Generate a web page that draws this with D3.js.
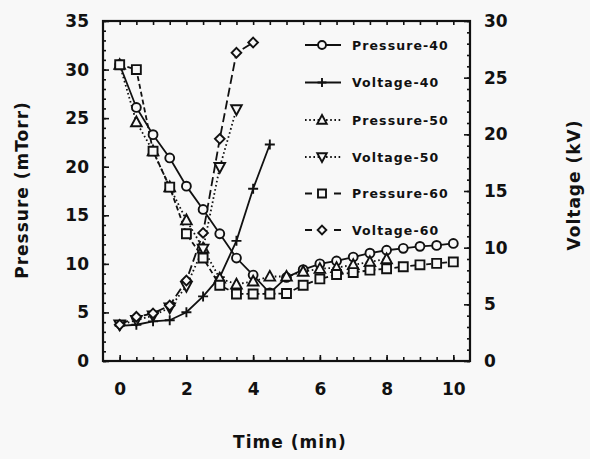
<!DOCTYPE html>
<html><head><meta charset="utf-8">
<script src="https://cdn.jsdelivr.net/npm/d3@7"></script>
<style>
html,body{margin:0;padding:0;background:#f8f8f8;}
svg{display:block;}
text{font-family:"DejaVu Sans",sans-serif;font-weight:bold;fill:#111;}
</style></head>
<body><svg id="c" width="590" height="459"></svg>
<script>
// ---- data ----
const timeP40 = [0,0.5,1,1.5,2,2.5,3,3.5,4,4.5,5,5.5,6,6.5,7,7.5,8,8.5,9,9.5,10];
const pressure40 = [30.5,26.1,23.3,20.9,18.0,15.6,13.1,10.6,8.85,7.0,8.6,9.4,10.0,10.3,10.7,11.1,11.4,11.6,11.8,11.9,12.1];
const timeV40 = [0,0.5,1,1.5,2,2.5,3,3.5,4,4.5];
const voltage40 = [3.1,3.2,3.5,3.6,4.3,5.7,7.4,10.6,15.2,19.1];
const timeP50 = [0,0.5,1,1.5,2,2.5,3,3.5,4,4.5,5,5.5,6,6.5,7,7.5,8];
const pressure50 = [30.5,24.6,21.6,17.9,14.5,11.6,8.5,7.9,8.2,8.7,8.7,9.2,9.5,9.6,9.9,10.2,10.5];
const timeV50 = [0,0.5,1,1.5,2,2.5,3,3.5];
const voltage50 = [3.2,3.6,4.0,4.7,6.6,9.9,17.1,22.2];
const timeP60 = [0,0.5,1,1.5,2,2.5,3,3.5,4,4.5,5,5.5,6,6.5,7,7.5,8,8.5,9,9.5,10];
const pressure60 = [30.5,30.0,21.6,17.9,13.1,10.6,7.8,6.9,6.9,6.9,6.95,7.8,8.45,8.9,9.1,9.35,9.5,9.7,9.9,10.05,10.2];
const timeV60 = [0,0.5,1,1.5,2,2.5,3,3.5,4];
const voltage60 = [3.2,3.9,4.2,4.9,7.1,11.3,19.6,27.2,28.1];

const pressureTicks = [0,5,10,15,20,25,30,35];
const voltageTicks = [0,5,10,15,20,25,30];
const timeTicks = [0,2,4,6,8,10];
const seriesNames = ["Pressure-40","Voltage-40","Pressure-50","Voltage-50","Pressure-60","Voltage-60"];

// ---- layout ----
const svg = d3.select("#c");
const L = 103, R = 470, T = 21, B = 361;
const x = d3.scaleLinear().domain([-0.5,10.5]).range([L,R]);
const yP = d3.scaleLinear().domain([0,35]).range([B,T]);
const yV = d3.scaleLinear().domain([0,30]).range([B,T]);

svg.append("rect").attr("width",590).attr("height",459).attr("fill","#f8f8f8");

// custom symbols
const plusSym = {draw(ctx,size){const r=Math.sqrt(size)/2;ctx.moveTo(-r,0);ctx.lineTo(r,0);ctx.moveTo(0,-r);ctx.lineTo(0,r);}};
const diamondSym = {draw(ctx,size){const r=Math.sqrt(size)/1.6;ctx.moveTo(0,-r);ctx.lineTo(r,0);ctx.lineTo(0,r);ctx.lineTo(-r,0);ctx.closePath();}};
const triUp = {draw(ctx,size){const r=Math.sqrt(size)/1.7;ctx.moveTo(0,-r);ctx.lineTo(r*0.95,r*0.75);ctx.lineTo(-r*0.95,r*0.75);ctx.closePath();}};
const triDown = {draw(ctx,size){const r=Math.sqrt(size)/1.7;ctx.moveTo(0,r);ctx.lineTo(r*0.95,-r*0.75);ctx.lineTo(-r*0.95,-r*0.75);ctx.closePath();}};

const series = [
 {name:seriesNames[0], t:timeP40, v:pressure40, y:yP, sym:d3.symbolCircle, size:62, dash:null},
 {name:seriesNames[1], t:timeV40, v:voltage40, y:yV, sym:plusSym, size:100, dash:null},
 {name:seriesNames[2], t:timeP50, v:pressure50, y:yP, sym:triUp, size:90, dash:"1.6,2.6"},
 {name:seriesNames[3], t:timeV50, v:voltage50, y:yV, sym:triDown, size:90, dash:"1.6,2.6"},
 {name:seriesNames[4], t:timeP60, v:pressure60, y:yP, sym:d3.symbolSquare, size:80, dash:"5,3"},
 {name:seriesNames[5], t:timeV60, v:voltage60, y:yV, sym:diamondSym, size:60, dash:"9,4"}
];

// ---- axes ----
function styleAxis(g){
  g.select(".domain").remove();
  g.selectAll(".tick line").attr("stroke","#111").attr("stroke-width",1.6);
  g.selectAll(".tick text").style("font-size","17px").attr("fill","#111");
}
// left
svg.append("g").attr("transform",`translate(${L},0)`)
  .call(d3.axisLeft(yP).tickValues(d3.range(0,36,1)).tickSize(-3).tickFormat(""))
  .call(styleAxis);
svg.append("g").attr("transform",`translate(${L},0)`)
  .call(d3.axisLeft(yP).tickValues(pressureTicks).tickSize(-6).tickPadding(14).tickFormat(d3.format("d")))
  .call(styleAxis);
// right
svg.append("g").attr("transform",`translate(${R},0)`)
  .call(d3.axisRight(yV).tickValues(d3.range(0,31,1)).tickSize(-3).tickFormat(""))
  .call(styleAxis);
svg.append("g").attr("transform",`translate(${R},0)`)
  .call(d3.axisRight(yV).tickValues(voltageTicks).tickSize(-6).tickPadding(14).tickFormat(d3.format("d")))
  .call(styleAxis);
// bottom
svg.append("g").attr("transform",`translate(0,${B})`)
  .call(d3.axisBottom(x).tickValues(d3.range(0,10.01,0.5)).tickSize(-4).tickFormat(""))
  .call(styleAxis);
svg.append("g").attr("transform",`translate(0,${B})`)
  .call(d3.axisBottom(x).tickValues(timeTicks).tickSize(-6).tickPadding(22).tickFormat(d3.format("d")))
  .call(styleAxis);
// top
svg.append("g").attr("transform",`translate(0,${T})`)
  .call(d3.axisTop(x).tickValues(d3.range(0,10.01,0.5)).tickSize(-4).tickFormat(""))
  .call(styleAxis);

svg.append("rect").attr("x",L).attr("y",T).attr("width",R-L).attr("height",B-T)
  .attr("fill","none").attr("stroke","#111").attr("stroke-width",2.2);

// titles
svg.append("text").attr("x",290).attr("y",448).attr("text-anchor","middle")
  .style("font-size","17px").style("letter-spacing","1px").text("Time (min)");
svg.append("text").attr("transform","translate(28,190) rotate(-90)").attr("text-anchor","middle")
  .style("font-size","17px").style("letter-spacing","1px").text("Pressure (mTorr)");
svg.append("text").attr("transform","translate(580,185) rotate(-90)").attr("text-anchor","middle")
  .style("font-size","17px").style("letter-spacing","1px").text("Voltage (kV)");

// ---- series ----
const plot = svg.append("g");
series.forEach(s=>{
  const pts = s.t.map((t,i)=>[t,s.v[i]]);
  const line = d3.line().x(d=>x(d[0])).y(d=>s.y(d[1]));
  plot.append("path").datum(pts).attr("d",line).attr("fill","none")
    .attr("stroke","#111").attr("stroke-width",1.8)
    .attr("stroke-dasharray",s.dash);
});
series.forEach(s=>{
  const pts = s.t.map((t,i)=>[t,s.v[i]]);
  plot.selectAll(null).data(pts).enter().append("path")
    .attr("transform",d=>`translate(${x(d[0])},${s.y(d[1])})`)
    .attr("d",d3.symbol().type(s.sym).size(s.size))
    .attr("fill","#f8f8f8").attr("stroke","#111").attr("stroke-width",1.9);
});

// ---- legend ----
const legY = [45,82.5,120,157,193.5,230];
const lg = svg.append("g");
series.forEach((s,i)=>{
  const y = legY[i];
  lg.append("line").attr("x1",305).attr("x2",341).attr("y1",y).attr("y2",y)
    .attr("stroke","#111").attr("stroke-width",1.8)
    .attr("stroke-dasharray", s.dash ? (s.dash==="1.6,2.6" ? "1.6,2.6" : "7,22") : null);
  lg.append("path").attr("transform",`translate(322,${y})`)
    .attr("d",d3.symbol().type(s.sym).size(s.size*0.8))
    .attr("fill","#f8f8f8").attr("stroke","#111").attr("stroke-width",1.9);
  lg.append("text").attr("x",352).attr("y",y).attr("dy","0.36em")
    .style("font-size","12.5px").style("letter-spacing","1.1px").text(s.name);
});
</script></body></html>
